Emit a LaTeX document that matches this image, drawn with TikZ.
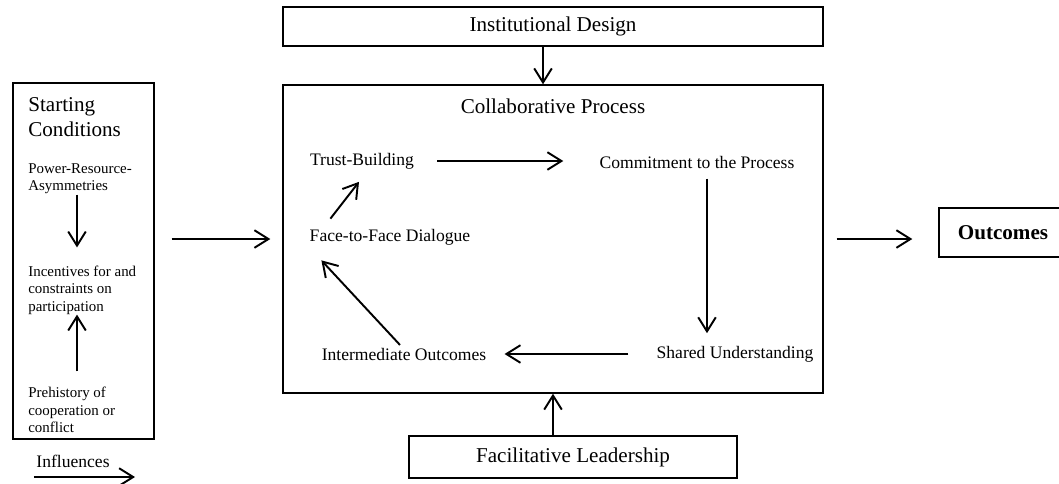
\documentclass[tikz,border=0pt]{standalone}
\usepackage{fontspec}
\setmainfont{Liberation Serif}
\usetikzlibrary{arrows.meta}

\begin{document}
\begin{tikzpicture}[
      every node/.style={font=\fontsize{10}{12}\selectfont, inner sep=0pt},
      box/.style={draw, line width=0.8pt, font=\fontsize{12}{14.2}\selectfont},
      small/.style={anchor=west, align=left, font=\fontsize{8.5}{9.9}\selectfont},
      arr/.style={-{Straight Barb[length=8pt, width=10pt]}, line width=1.1pt}]
    \useasboundingbox (0,0) rectangle (21.18,-9.66);
    \node[box, minimum width=10.8cm, minimum height=0.78cm] (inst) at (11.06,-0.53) {Institutional Design};
    \node[box, minimum width=10.8cm, minimum height=6.16cm] (collab) at (11.06,-4.78) {};
    \node[font=\fontsize{12}{14.2}\selectfont] (ctitle) at (11.06,-2.12) {Collaborative Process};
    \node[box, minimum width=2.82cm, minimum height=7.12cm] (start) at (1.67,-5.22) {};
    \node[box, minimum width=6.56cm, minimum height=0.84cm] (facil) at (11.46,-9.14) {Facilitative Leadership};
    \node[box, minimum width=2.56cm, minimum height=0.98cm,
          font=\fontsize{12}{14.2}\selectfont\bfseries] (out) at (20.06,-4.65) {Outcomes};
    \node[anchor=west, align=left, font=\fontsize{12}{14.2}\selectfont] (sc) at (0.56,-2.35) {Starting\\Conditions};
    \node[small] (pra) at (0.56,-3.58) {Power-Resource-\\Asymmetries};
    \node[small] (inc) at (0.56,-5.8) {Incentives for and\\constraints on\\participation};
    \node[small] (pre) at (0.56,-8.2) {Prehistory of\\cooperation or\\conflict};
    \node (trust) at (7.24,-3.22) {Trust-Building};
    \node (commit) at (13.94,-3.24) {Commitment to the Process};
    \node (face) at (7.80,-4.74) {Face-to-Face Dialogue};
    \node (inter) at (8.08,-7.08) {Intermediate Outcomes};
    \node (shared) at (14.70,-7.08) {Shared Understanding};
    \node (infl) at (1.46,-9.22) {Influences};
    \coordinate (infl-a) at (0.68,-9.54);
    \coordinate (infl-b) at (2.70,-9.54);
    \draw[arr] ([xshift=-0.2cm]inst.south) -- ([xshift=-0.2cm]collab.north);
    \draw[arr] (facil.north -| collab.south) -- (collab.south);
    \draw[arr, shorten <=0.34cm, shorten >=0.24cm] (start.east |- collab.center) -- (collab.west);
    \draw[arr, shorten <=0.26cm, shorten >=0.52cm] (collab.east) -- (collab.east -| out.west);
    \draw[arr, shorten <=0.46cm, shorten >=0.72cm] (trust.east) -- (trust.east -| commit.west);
    \draw[arr, shorten <=0.2cm, shorten >=0.25cm] ([xshift=0.2cm]commit.south) -- ([xshift=0.2cm]commit.south |- shared.north);
    \draw[arr, shorten <=0.56cm, shorten >=0.36cm] (shared.west) -- (inter.east);
    \draw[arr] ([xshift=-0.08cm, yshift=0.05cm]inter.north) -- ([xshift=0.24cm, yshift=-0.3cm]face.south west);
    \draw[arr] ([xshift=0.42cm, yshift=0.2cm]face.north west) -- ([xshift=-0.06cm, yshift=-0.25cm]trust.south);
    \draw[arr, shorten >=0.36cm] ([xshift=-0.13cm]start.center |- pra.south) -- ([xshift=-0.13cm]start.center |- inc.north);
    \draw[arr, shorten <=0.31cm] ([xshift=-0.13cm]start.center |- pre.north) -- ([xshift=-0.13cm]start.center |- inc.south);
    \draw[arr] (infl-a) -- (infl-b);
  \end{tikzpicture}
\end{document}
